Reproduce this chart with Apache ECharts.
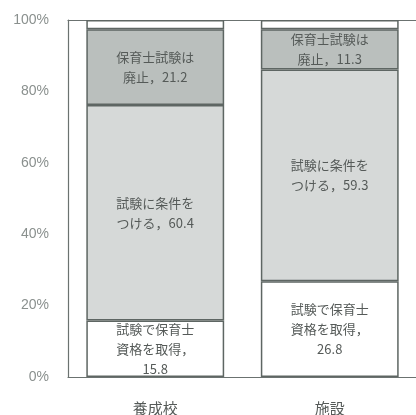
<!DOCTYPE html>
<html>
<head>
<meta charset="utf-8">
<script src="https://cdn.jsdelivr.net/npm/echarts@6/dist/echarts.min.js"></script>
<style>
  html, body { margin: 0; padding: 0; background: #fff; overflow: hidden; }
  #chart { width: 416px; height: 415px; }
</style>
</head>
<body>
<div id="chart"></div>
<script>
// Categories and stacked shares (%)
const categories = ['養成校', '施設'];
const obtainByExam = [15.8, 26.8];      // 試験で保育士資格を取得
const conditionalExam = [60.4, 59.3];   // 試験に条件をつける
const abolishExam = [21.2, 11.3];       // 保育士試験は廃止
const otherShare = [2.6, 2.6];          // その他（無回答）
const yTicks = [0, 20, 40, 60, 80, 100];

const seriesNames = ['試験で保育士資格を取得', '試験に条件をつける', '保育士試験は廃止', 'その他'];
const labelTexts = [
  v => '試験で保育士\n資格を取得，\n' + v.toFixed(1),
  v => '試験に条件を\nつける，' + v.toFixed(1),
  v => '保育士試験は\n廃止，' + v.toFixed(1),
  null
];
const fills = ['#ffffff', '#d6d9d8', '#babfbd', '#ffffff'];
const values = [obtainByExam, conditionalExam, abolishExam, otherShare];

const chart = echarts.init(document.getElementById('chart'), null, { renderer: 'canvas' });

const series = values.map((arr, i) => ({
  name: seriesNames[i],
  type: 'bar',
  stack: 'total',
  barWidth: '79%',
  data: arr,
  itemStyle: { color: fills[i], borderColor: '#5e6663', borderWidth: 1.5 },
  label: labelTexts[i] ? {
    show: true,
    position: 'inside',
    formatter: p => labelTexts[i](p.value),
    color: '#555a58',
    fontSize: 13,
    lineHeight: 20,
    fontFamily: '"Noto Sans CJK JP", sans-serif'
  } : { show: false },
  emphasis: { disabled: true }
}));

const axisLineStyle = { color: '#6b7270', width: 1.2 };

chart.setOption({
  animation: false,
  grid: { left: 68, top: 20, width: 349, height: 357, outerBoundsMode: 'none' },
  xAxis: [{
    type: 'category',
    data: categories,
    axisLine: { show: true, lineStyle: axisLineStyle },
    axisTick: { show: false },
    splitLine: { show: false },
    axisLabel: {
      margin: 24,
      color: '#555a58',
      fontSize: 15,
      fontFamily: '"Noto Sans CJK JP", sans-serif'
    }
  }, {
    // top frame line at 100%
    type: 'category',
    data: categories,
    position: 'top',
    axisLine: { show: true, lineStyle: axisLineStyle },
    axisTick: { show: false },
    splitLine: { show: false },
    axisLabel: { show: false }
  }],
  yAxis: {
    type: 'value',
    min: 0, max: 100, interval: 20,
    axisLine: { show: true, lineStyle: axisLineStyle },
    axisTick: { show: false },
    splitLine: { show: false },
    axisLabel: {
      margin: 19,
      color: '#8a908e',
      fontSize: 14,
      fontFamily: 'Arial, "Liberation Sans", sans-serif',
      formatter: v => yTicks.includes(v) ? v + '%' : ''
    }
  },
  series: series
});
</script>
</body>
</html>
